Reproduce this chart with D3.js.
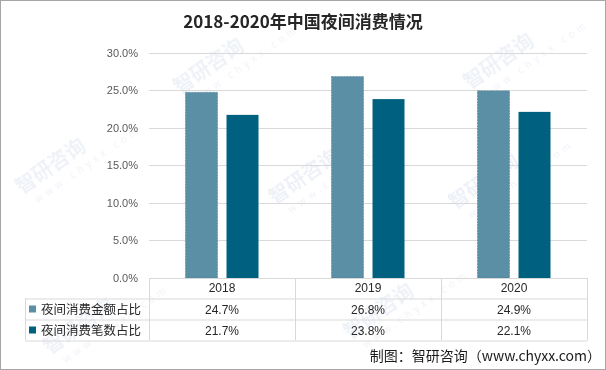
<!DOCTYPE html>
<html>
<head>
<meta charset="utf-8">
<script src="https://cdn.jsdelivr.net/npm/d3@7"></script>
<style>
  body { margin: 0; background: #fff; }
  svg { display: block; font-family: "Microsoft YaHei", "Noto Sans CJK SC", sans-serif; }
</style>
</head>
<body>
<div id="chart"></div>
<script>
const years = ["2018", "2019", "2020"];
const seriesNames = ["夜间消费金额占比", "夜间消费笔数占比"];
const amountShare = [24.7, 26.8, 24.9];
const countShare = [21.7, 23.8, 22.1];
const yTicks = [0, 5, 10, 15, 20, 25, 30];
const colors = ["#5b8fa6", "#00607f"];

const W = 606, H = 370;
const plotLeft = 149, plotRight = 587, plotTop = 52.5, plotBottom = 278;

const svg = d3.select("#chart").append("svg")
  .attr("width", W).attr("height", H);

svg.append("rect").attr("x", 0.5).attr("y", 0.5)
  .attr("width", W - 1).attr("height", H - 1)
  .attr("fill", "#fff").attr("stroke", "#a6a6a6");

// faint watermarks, kept inside the frame
const marks = [[180, 95], [470, 90], [22, 195], [275, 205], [455, 210], [50, 355], [350, 340]];
const wm = svg.append("g").attr("opacity", 0.13);
marks.forEach(function (p) {
  const g = wm.append("g").attr("transform", `translate(${p[0]},${p[1]}) rotate(-35)`);
  g.append("text").attr("x", 0).attr("y", 0).attr("font-size", 20).attr("font-weight", "bold")
    .attr("fill", "#7f9cc4").text("智研咨询");
  g.append("text").attr("x", 8).attr("y", 16).attr("font-size", 10).attr("letter-spacing", 4)
    .attr("fill", "#7f9cc4").text("www.chyxx.com");
});

svg.append("text").attr("x", 303).attr("y", 28).attr("text-anchor", "middle")
  .attr("font-size", 17).attr("font-weight", "bold").attr("fill", "#262626")
  .text("2018-2020年中国夜间消费情况");

const x = d3.scaleBand().domain(years).range([plotLeft, plotRight]);
const xs = d3.scaleBand().domain([0, 1]).range([0, x.bandwidth()]).paddingInner(0.22).paddingOuter(0.89);
const y = d3.scaleLinear().domain([0, 30]).range([plotBottom, plotTop]);

// grid
svg.append("g").selectAll("line").data(yTicks.filter(d => d > 0)).enter().append("line")
  .attr("x1", plotLeft).attr("x2", plotRight)
  .attr("y1", d => Math.round(y(d)) + 0.5).attr("y2", d => Math.round(y(d)) + 0.5)
  .attr("stroke", "#d9d9d9");

svg.append("g").selectAll("text").data(yTicks).enter().append("text")
  .attr("x", 138).attr("y", d => y(d) + 4).attr("text-anchor", "end")
  .attr("font-size", 11).attr("fill", "#595959")
  .attr("font-family", "Arial, 'Liberation Sans', sans-serif")
  .text(d => d.toFixed(1) + "%");

// bars
const data = [amountShare, countShare];
data.forEach(function (vals, si) {
  svg.append("g").selectAll("rect").data(vals).enter().append("rect")
    .attr("x", (d, i) => x(years[i]) + xs(si))
    .attr("width", xs.bandwidth())
    .attr("y", d => y(d))
    .attr("height", d => plotBottom - y(d))
    .attr("fill", colors[si])
    .attr("stroke", si === 0 ? "#4a7a90" : "none")
    .attr("stroke-dasharray", "2,1")
    .attr("stroke-width", 0.6);
});

// data table
const rowY = [278, 298.5, 319.5, 340.5];
const tbl = svg.append("g").attr("stroke", "#d9d9d9").attr("fill", "none");
tbl.append("line").attr("x1", plotLeft).attr("x2", plotRight).attr("y1", rowY[0] + 0.5).attr("y2", rowY[0] + 0.5);
rowY.slice(1).forEach(function (ry) {
  tbl.append("line").attr("x1", 25).attr("x2", plotRight).attr("y1", ry + 0.5).attr("y2", ry + 0.5);
});
tbl.append("line").attr("x1", 25.5).attr("x2", 25.5).attr("y1", rowY[1]).attr("y2", rowY[3]);
[plotLeft, plotLeft + x.bandwidth(), plotLeft + 2 * x.bandwidth(), plotRight].forEach(function (vx) {
  tbl.append("line").attr("x1", Math.round(vx) + 0.5).attr("x2", Math.round(vx) + 0.5)
    .attr("y1", rowY[0]).attr("y2", rowY[3]);
});

const numFont = "Arial, 'Liberation Sans', sans-serif";
svg.append("g").selectAll("text").data(years).enter().append("text")
  .attr("x", d => x(d) + x.bandwidth() / 2).attr("y", 292)
  .attr("text-anchor", "middle").attr("font-size", 12).attr("fill", "#262626")
  .attr("font-family", numFont).text(d => d);

data.forEach(function (vals, si) {
  const ry = rowY[si + 1];
  svg.append("rect").attr("x", 29).attr("y", ry + 7).attr("width", 7).attr("height", 7)
    .attr("fill", colors[si]);
  svg.append("text").attr("x", 41).attr("y", ry + 15).attr("font-size", 12.5)
    .attr("fill", "#262626").text(seriesNames[si]);
  svg.append("g").selectAll("text").data(vals).enter().append("text")
    .attr("x", (d, i) => x(years[i]) + x.bandwidth() / 2).attr("y", ry + 15)
    .attr("text-anchor", "middle").attr("font-size", 12).attr("fill", "#262626")
    .attr("font-family", numFont).text(d => d.toFixed(1) + "%");
});

svg.append("text").attr("x", 601).attr("y", 361).attr("text-anchor", "end")
  .attr("font-size", 14).attr("fill", "#1a1a1a")
  .text("制图：智研咨询（www.chyxx.com）");
</script>
</body>
</html>
